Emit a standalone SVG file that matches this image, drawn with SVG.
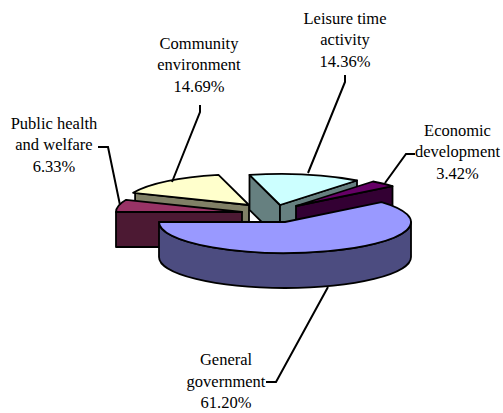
<svg xmlns="http://www.w3.org/2000/svg" width="503" height="413" viewBox="0 0 503 413">
<style>
.s{stroke:#000;stroke-width:1.8;stroke-linejoin:round}
.l{fill:none;stroke:#000;stroke-width:2}
.t{font-family:'Liberation Serif','DejaVu Serif',serif;font-size:16.5px;fill:#000;text-anchor:middle}
</style>
<rect width="503" height="413" fill="#fff"/>
<g id="leisure">
<path class="s" fill="#668080" d="M280,205 L249.5,174.9 L249.5,209.9 L280,240 Z"/>
<path class="s" fill="#668080" d="M280,205 L357,180.5 L357,215.5 L280,240 Z"/>
<path class="s" fill="#CCFFFF" d="M280,205 L357,180.5 A126,31 0 0 0 249.5,174.9 Z"/>
</g>
<g id="economic">
<path class="s" fill="#330033" d="M296,206 L392.5,186.1 L392.5,221.1 L296,241 Z"/>
<path class="s" fill="#660066" d="M296,206 L392.5,186.1 A126,31 0 0 0 373,181.5 Z"/>
</g>
<g id="community">
<path class="s" fill="#808066" d="M249,205 L135.1,192.8 L135.1,227.8 L249,240 Z"/>
<path class="s" fill="#FFFFCC" d="M249,205 L218.5,174.9 A126,31 0 0 0 133.1,192.8 Z"/>
</g>
<g id="public">
<path class="s" fill="#4C1933" d="M116,212 L242,212 L242,247 L116,247 Z"/>
<path class="s" fill="#993366" d="M242,212 L126.1,199.8 A126,31 0 0 0 116,212 Z"/>
</g>
<g id="general">
<path class="s" fill="#4C4C80" d="M159,222 A126,31 0 0 0 411,222 L411,257 A126,31 0 0 1 159,257 Z"/>
<path class="s" fill="#9999FF" d="M285,222 L159,222 A126,31 0 1 0 381.5,202.1 Z"/>
</g>
<g id="connectors">
<polyline class="l" points="345,75 345,82 308,173"/>
<polyline class="l" points="415,154 406,154 385,183"/>
<polyline class="l" points="200,105 200,112 172,182"/>
<polyline class="l" points="98,147 108,147 120,205"/>
<polyline class="l" points="266,382 276,382 328,287"/>
</g>
<g id="labels" font-family="Liberation Serif, DejaVu Serif, serif">
<text class="t" x="345" y="23.5">Leisure time</text>
<text class="t" x="345" y="45">activity</text>
<text class="t" x="345" y="66.5">14.36%</text>
<text class="t" x="457.5" y="135.5">Economic</text>
<text class="t" x="457.5" y="157">development</text>
<text class="t" x="457.5" y="178.5">3.42%</text>
<text class="t" x="199" y="48.5">Community</text>
<text class="t" x="199" y="70">environment</text>
<text class="t" x="199" y="91.5">14.69%</text>
<text class="t" x="54" y="128.5">Public health</text>
<text class="t" x="54" y="150">and welfare</text>
<text class="t" x="54" y="171.5">6.33%</text>
<text class="t" x="226" y="365">General</text>
<text class="t" x="226" y="386.5">government</text>
<text class="t" x="226" y="408">61.20%</text>
</g>
</svg>
